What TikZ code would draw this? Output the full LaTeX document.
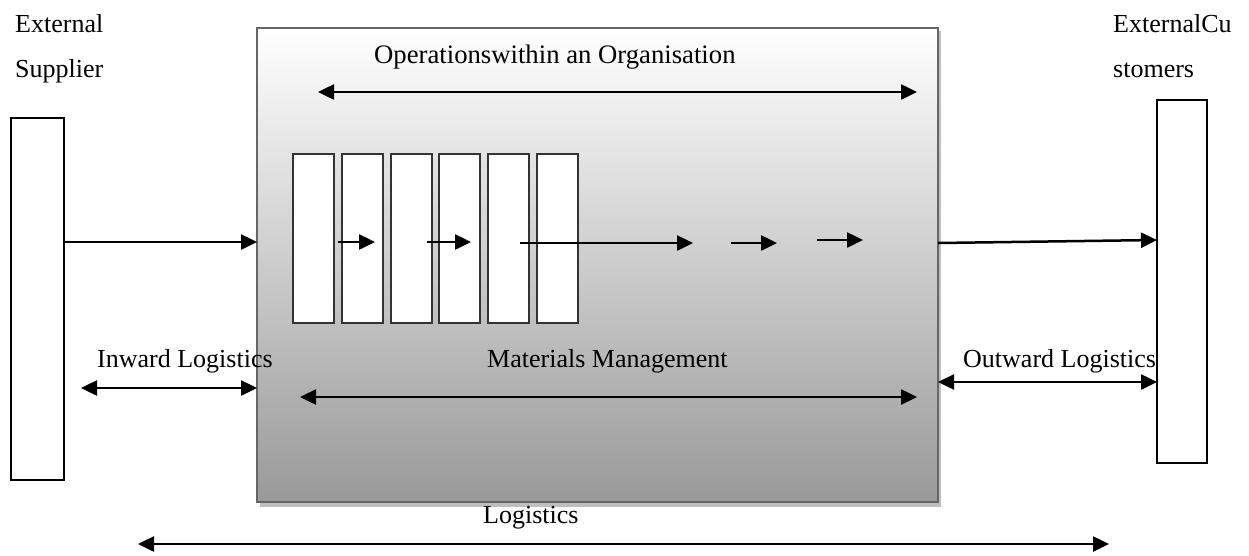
\documentclass[tikz,border=0pt]{standalone}
\usepackage{fontspec}
\setmainfont{Liberation Serif}
\usetikzlibrary{arrows.meta}
\begin{document}
\begin{tikzpicture}[x=1pt,y=-1pt,
  arr/.style={line width=2.5pt,-{Triangle[length=16pt,width=15pt]}},
  darr/.style={line width=2.5pt,{Triangle[length=16pt,width=15pt]}-{Triangle[length=16pt,width=15pt]}},
  lbl/.style={anchor=base west,inner sep=0,font=\fontsize{26}{30}\selectfont},
  endbox/.style={draw=black,line width=1.5pt,fill=white,inner sep=0,outer sep=0,anchor=north west},
  stage/.style={draw=black!80,line width=1.5pt,fill=white,inner sep=0,outer sep=0,anchor=north west,minimum width=41pt,minimum height=169pt}]
\useasboundingbox (0,0) rectangle (1249,555);
% shadow of the organisation box
\fill[black!25] (260,31) rectangle (941,507);
\node[draw=black!60,line width=2pt,top color=white,bottom color=black!40,anchor=north west,
      minimum width=681pt,minimum height=474pt,inner sep=0,outer sep=0] (org) at (257,28) {};
% external boxes
\node[endbox,minimum width=53pt,minimum height=362pt] (sup) at (11,118) {};
\node[endbox,minimum width=50pt,minimum height=363pt] (cus) at (1157,100) {};
% stages
\node[stage] (s1) at (293,154) {};
\node[stage] (s2) at (342,154) {};
\node[stage] (s3) at (391,154) {};
\node[stage] (s4) at (439,154) {};
\node[stage] (s5) at (488,154) {};
\node[stage] (s6) at (537,154) {};
% helper coordinates
\coordinate (y242) at (0,242);
\coordinate (y243) at (0,243);
\coordinate (y240) at (0,240);
\coordinate (y388) at (0,388);
\coordinate (y382) at (0,382);
\coordinate (a1s) at (338,242); \coordinate (a1e) at (375,242);
\coordinate (a2s) at (427,242); \coordinate (a2e) at (471,242);
\coordinate (a3s) at (520,243); \coordinate (a3e) at (693,243);
\coordinate (a4s) at (731,243); \coordinate (a4e) at (777,243);
\coordinate (a5s) at (817,240); \coordinate (a5e) at (863,240);
\coordinate (opsL) at (318,92); \coordinate (opsR) at (917,92);
\coordinate (matL) at (300,397); \coordinate (matR) at (917,397);
\coordinate (inL) at (81,388);
\coordinate (logL) at (138,544); \coordinate (logR) at (1109,544);
% flow arrows
\draw[arr] (sup.east |- y242) -- (org.west |- y242);
\draw[arr] (org.east |- y243) -- (cus.west |- y240);
\draw[arr] (a1s) -- (a1e);
\draw[arr] (a2s) -- (a2e);
\draw[arr] (a3s) -- (a3e);
\draw[arr] (a4s) -- (a4e);
\draw[arr] (a5s) -- (a5e);
% span arrows
\draw[darr] (opsL) -- (opsR);
\draw[darr] (matL) -- (matR);
\draw[darr] (inL) -- (org.west |- y388);
\draw[darr] (org.east |- y382) -- (cus.west |- y382);
\draw[darr] (logL) -- (logR);
% labels
\node[lbl] (t1) at (15,32) {External};
\node[lbl] (t2) at (15,77) {Supplier};
\node[lbl] (t3) at (1113,32) {ExternalCu};
\node[lbl] (t4) at (1113,77) {stomers};
\node[lbl,font=\fontsize{26.7}{30}\selectfont] (t5) at (374,63) {Operationswithin an Organisation};
\node[lbl] (t6) at (97,367) {Inward Logistics};
\node[lbl] (t7) at (487,367) {Materials Management};
\node[lbl] (t8) at (963,367) {Outward Logistics};
\node[lbl] (t9) at (483,523) {Logistics};
\end{tikzpicture}
\end{document}
